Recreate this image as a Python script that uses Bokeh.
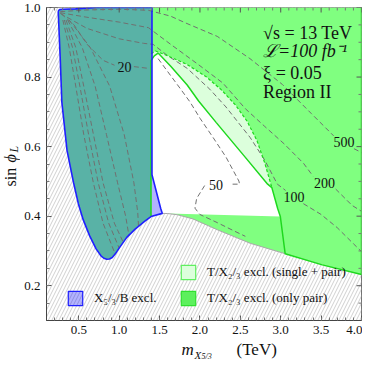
import math
from bokeh.plotting import figure
from bokeh.layouts import row, column
from bokeh.models import Range1d, Label, Legend, LegendItem, FixedTicker
from bokeh.embed import file_html
from bokeh.resources import INLINE

nan = float("nan")

# ---------------- data ----------------
x_lim = [0.1, 4.0]
y_lim = [0.1, 1.0]
x_ticks = [0.5, 1.0, 1.5, 2.0, 2.5, 3.0, 3.5, 4.0]
x_tick_labels = ["0.5", "1.0", "1.5", "2.0", "2.5", "3.0", "3.5", "4.0"]
x_minor = [round(0.1 * i, 2) for i in range(2, 40) if i % 5]
y_ticks = [0.2, 0.4, 0.6, 0.8, 1.0]
y_tick_labels = ["0.2", "0.4", "0.6", "0.8", "1.0"]
y_minor = [round(0.05 * i, 2) for i in range(3, 20) if i % 4]

# lower/left edge of the physical region (hatched outside), left part
bnd_left_x = [0.245, 0.27, 0.29, 0.354, 0.434, 0.494, 0.554, 0.633, 0.714, 0.774, 0.81, 0.846, 0.88, 0.914, 0.95, 0.993, 1.094, 1.194, 1.314, 1.394]
bnd_left_y = [0.989, 0.853, 0.728, 0.589, 0.497, 0.436, 0.390, 0.344, 0.306, 0.286, 0.279, 0.276, 0.277, 0.281, 0.291, 0.306, 0.339, 0.362, 0.385, 0.399]
# right part
bnd_right_x = [1.394, 1.534, 1.602, 1.722, 1.914, 2.214, 2.622, 3.055, 3.514, 4.0]
bnd_right_y = [0.399, 0.408, 0.4075, 0.404, 0.392, 0.361, 0.322, 0.292, 0.260, 0.232]
top_right_corner = [4.0, 1.0]

# X5/3 / B exclusion: upper edge and right edge
blue_top_x = [0.245, 0.26, 0.30, 0.46, 0.725, 1.406]
blue_top_y = [0.989, 0.994, 0.995, 0.996, 1.0, 1.0]
blue_right_x = [1.406, 1.406, 1.514, 1.534]
blue_right_y = [1.0, 0.519, 0.422, 0.408]

# T/X2/3 exclusion edges
notch_left_x = [1.394, 1.394]
notch_left_y = [0.399, 0.847]
single_edge_x = [1.394, 1.434, 1.482, 1.638, 1.842, 1.983, 2.202, 2.562, 2.838, 2.89]
single_edge_y = [0.847, 0.861, 0.869, 0.831, 0.777, 0.731, 0.669, 0.569, 0.492, 0.482]
pair_edge_x = [1.394, 1.45, 1.602, 1.842, 2.082, 2.262, 2.442, 2.586, 2.706, 2.802, 2.89]
pair_edge_y = [0.867, 0.875, 0.861, 0.836, 0.800, 0.764, 0.719, 0.672, 0.617, 0.553, 0.482]
lower_edge_x = [2.89, 2.962, 2.995, 3.055]
lower_edge_y = [0.482, 0.422, 0.399, 0.292]

# dashed contours (nan = gap for a label)
c20_x = [0.281, 0.441, 0.602, 0.801, 0.942, nan, 1.182, 1.362]
c20_y = [0.982, 0.95, 0.894, 0.848, 0.834, nan, 0.83, 0.825]
c50_x = [1.482, 1.542, 1.762, 1.878, 2.002, 2.163, 2.322, 2.482, 2.49, 2.403, nan, 2.058, 1.959, 1.938, 1.998, 2.218, 2.418, 2.562]
c50_y = [0.853, 0.834, 0.765, 0.728, 0.681, 0.626, 0.570, 0.501, 0.492, 0.492, nan, 0.488, 0.451, 0.423, 0.405, 0.381, 0.358, 0.342]
c100_x = [0.27, 0.6, 1.0, 1.3, 1.42, 1.602, 1.842, 2.122, 2.322, 2.622, 2.802, 2.958, 3.06, nan, 3.28, 3.499, 3.699, 3.899, 4.0]
c100_y = [0.983, 0.94, 0.91, 0.897, 0.894, 0.861, 0.825, 0.765, 0.714, 0.626, 0.561, 0.492, 0.474, nan, 0.436, 0.405, 0.367, 0.321, 0.298]
c200_x = [0.27, 0.6, 1.0, 1.362, 1.638, 1.962, 2.283, 2.562, 2.802, 3.042, 3.282, 3.40, nan, 3.68, 3.883, 4.0]
c200_y = [0.985, 0.972, 0.958, 0.942, 0.894, 0.839, 0.783, 0.709, 0.658, 0.608, 0.552, 0.515, nan, 0.478, 0.431, 0.414]
c500_x = [0.27, 0.6, 1.0, 1.362, 1.638, 1.818, 2.214, 2.619, 3.019, 3.379, 3.655, nan, 3.907, 4.0]
c500_y = [0.988, 0.993, 0.995, 0.992, 0.975, 0.956, 0.917, 0.853, 0.779, 0.695, 0.631, nan, 0.594, 0.583]
b1_x = [0.302, 0.381, 0.462, 0.561, 0.68, 0.80, 0.95]
b1_y = [0.964, 0.885, 0.774, 0.635, 0.496, 0.38, 0.291]
b2_x = [0.321, 0.422, 0.513, 0.621, 0.74, 0.87, 1.00]
b2_y = [0.964, 0.885, 0.774, 0.635, 0.496, 0.38, 0.308]
b3_x = [0.342, 0.462, 0.561, 0.681, 0.80, 0.94, 1.05]
b3_y = [0.964, 0.885, 0.774, 0.635, 0.496, 0.38, 0.325]
l4_x = [0.362, 0.542, 0.702, 0.842, 0.98, 1.08, 1.12]
l4_y = [0.964, 0.885, 0.774, 0.635, 0.496, 0.40, 0.345]
l5_x = [0.381, 0.642, 0.882, 1.062, 1.182, 1.23, 1.24]
l5_y = [0.964, 0.885, 0.774, 0.635, 0.496, 0.41, 0.367]
contours = [(c20_x, c20_y), (c50_x, c50_y), (c100_x, c100_y), (c200_x, c200_y), (c500_x, c500_y),
            (b1_x, b1_y), (b2_x, b2_y), (b3_x, b3_y), (l4_x, l4_y), (l5_x, l5_y)]

contour_labels = ["20", "50", "100", "200", "500"]
contour_label_x = [1.065, 2.2, 3.163, 3.543, 3.783]
contour_label_y = [0.83, 0.489, 0.455, 0.496, 0.612]

info_lines = ["\u221As = 13 TeV", "\u2112=100 fb\u207b\u00b9", "\u03be = 0.05", "Region II"]
info_x = 2.782
info_y = [0.927, 0.876, 0.811, 0.756]

# ---------------- colours / layout ----------------
GREEN_PAIR = "#80ff80"
GREEN_SINGLE = "#dcffdc"
GREEN_LINE = "#1ed81e"
BLUE = "#0000ff"
BLUE_LINE = "#2020ff"
SERIF = "Liberation Serif"
YT_W = 20                      # strip holding the y title
W, H = 362 - YT_W, 339         # main figure
XT_H = 361 - H                 # strip holding the x title
BL, BR, BT, BB = 26, 1, 7, 19
FW, FH = W - BL - BR, H - BT - BB

fig = figure(width=W, height=H, output_backend="svg", toolbar_location=None,
             x_range=Range1d(*x_lim), y_range=Range1d(*y_lim),
             min_border_left=BL, min_border_right=BR, min_border_top=BT, min_border_bottom=BB)
fig.grid.visible = False
fig.outline_line_color = "#444444"
fig.background_fill_color = "white"
fig.border_fill_color = "white"

# hatched background (theoretically excluded)
fig.quad(left=[x_lim[0]], right=[x_lim[1]], bottom=[y_lim[0]], top=[y_lim[1]],
         fill_color="white", line_color=None,
         hatch_pattern="/", hatch_color="#c4c4c4", hatch_scale=7, hatch_weight=0.8)

# allowed region (white)
ax_ = bnd_left_x + bnd_right_x[1:] + [top_right_corner[0], bnd_left_x[0]]
ay_ = bnd_left_y + bnd_right_y[1:] + [top_right_corner[1], 1.0]
fig.patch(ax_, ay_, fill_color="white", line_color=None)

# single + pair (pale green) wedge
sx = single_edge_x + pair_edge_x[::-1]
sy = single_edge_y + pair_edge_y[::-1]
fig.patch(sx, sy, fill_color=GREEN_SINGLE, line_color=None)

# only pair (green)
gx = (blue_top_x[:-1] + [top_right_corner[0], top_right_corner[0]] + bnd_right_x[::-1][1:-2]
      + lower_edge_x[::-1][1:] + pair_edge_x[::-1][1:] + [notch_left_x[0]] + bnd_left_x[::-1][1:])
gy = (blue_top_y[:-1] + [top_right_corner[1], bnd_right_y[-1]] + bnd_right_y[::-1][1:-2]
      + lower_edge_y[::-1][1:] + pair_edge_y[::-1][1:] + [notch_left_y[0]] + bnd_left_y[::-1][1:])
fig.patch(gx, gy, fill_color=GREEN_PAIR, line_color=None)

# X5/3/B exclusion (translucent blue)
bx = blue_top_x + blue_right_x[1:] + bnd_left_x[::-1]
by = blue_top_y + blue_right_y[1:] + bnd_left_y[::-1]
fig.patch(bx, by, fill_color=BLUE, fill_alpha=0.3, line_color=None)

# contours
for cx, cy in contours:
    fig.line(cx, cy, line_color="#707070", line_width=1, line_dash="5 3")

# boundary lines
fig.line(bnd_right_x[1:8], bnd_right_y[1:8], line_color="#a8a8a8", line_width=1)
fig.line(pair_edge_x, pair_edge_y, line_color=GREEN_LINE, line_width=1.2, line_dash="3 2")
gl_x = notch_left_x + single_edge_x[1:] + lower_edge_x[1:] + bnd_right_x[8:] + [top_right_corner[0]]
gl_y = notch_left_y + single_edge_y[1:] + lower_edge_y[1:] + bnd_right_y[8:] + [top_right_corner[1]]
fig.line(gl_x, gl_y, line_color=GREEN_LINE, line_width=1.5)
fig.line(bx + [bx[0]], by + [by[0]], line_color=BLUE_LINE, line_width=1.6)

# contour labels
for t, lx, ly in zip(contour_labels, contour_label_x, contour_label_y):
    fig.add_layout(Label(x=lx, y=ly, text=t, text_align="center", text_baseline="middle",
                         text_font=SERIF, text_font_size="14px", text_color="#111111"))

# info text
for i, (t, ly) in enumerate(zip(info_lines, info_y)):
    fig.add_layout(Label(x=info_x, y=ly, text=t, text_align="left", text_baseline="middle",
                         text_font=SERIF, text_font_size="18px", text_color="#111111",
                         text_font_style="italic" if i == 1 else "normal"))

# legend (glyphs carry only a NaN row, so they draw nothing in the plot)
r_blue = fig.quad(left=[nan], right=[nan], top=[nan], bottom=[nan], fill_color=BLUE, fill_alpha=0.3,
                  line_color=BLUE_LINE, line_width=1.2)
r_single = fig.quad(left=[nan], right=[nan], top=[nan], bottom=[nan], fill_color=GREEN_SINGLE,
                    line_color="#60f060", line_width=1.2)
r_pair = fig.quad(left=[nan], right=[nan], top=[nan], bottom=[nan], fill_color="#5cf05c",
                  line_color="#30e030", line_width=1.2)
for items, loc in [([LegendItem(label="X\u2085/\u2083/B excl.", renderers=[r_blue])], (20, 13)),
                   ([LegendItem(label="T/X\u2082/\u2083 excl. (single + pair)", renderers=[r_single]),
                     LegendItem(label="T/X\u2082/\u2083 excl. (only pair)", renderers=[r_pair])], (133, 13))]:
    lg = Legend(items=items, location=loc, padding=0, margin=0, spacing=8,
                glyph_width=18, glyph_height=18, label_standoff=10,
                label_text_font=SERIF, label_text_font_size="13px", label_text_color="#111111",
                border_line_alpha=0, background_fill_alpha=0)
    fig.add_layout(lg)

# axes (left / bottom with labels)
def style_axis(ax, ticks, minor, labels):
    ax.ticker = FixedTicker(ticks=ticks, minor_ticks=minor + ticks)
    ax.axis_line_color = "#444444"
    ax.major_tick_in = 5
    ax.major_tick_out = 0
    ax.minor_tick_in = 3
    ax.minor_tick_out = 0
    ax.major_tick_line_color = "#555555"
    ax.minor_tick_line_color = "#777777"
    ax.major_label_overrides = {t: l for t, l in zip(ticks, labels)}
    ax.major_label_text_font = SERIF
    ax.major_label_text_font_size = "13px"
    ax.major_label_text_color = "#111111"

style_axis(fig.xaxis[0], x_ticks, x_minor, x_tick_labels)
fig.xaxis[0].major_label_standoff = 5
style_axis(fig.yaxis[0], y_ticks, y_minor, y_tick_labels)
fig.yaxis[0].major_label_standoff = 6

# ticks on the top and right frame edges
dx_major = 5 * (x_lim[1] - x_lim[0]) / FW
dx_minor = 3 * (x_lim[1] - x_lim[0]) / FW
dy_major = 5 * (y_lim[1] - y_lim[0]) / FH
dy_minor = 3 * (y_lim[1] - y_lim[0]) / FH
fig.segment(x0=x_ticks, x1=x_ticks, y0=[y_lim[1]] * len(x_ticks), y1=[y_lim[1] - dy_major] * len(x_ticks),
            line_color="#555555", line_width=1)
fig.segment(x0=x_minor, x1=x_minor, y0=[y_lim[1]] * len(x_minor), y1=[y_lim[1] - dy_minor] * len(x_minor),
            line_color="#777777", line_width=1)
fig.segment(x0=[x_lim[1]] * len(y_ticks), x1=[x_lim[1] - dx_major] * len(y_ticks), y0=y_ticks, y1=y_ticks,
            line_color="#555555", line_width=1)
fig.segment(x0=[x_lim[1]] * len(y_minor), x1=[x_lim[1] - dx_minor] * len(y_minor), y0=y_minor, y1=y_minor,
            line_color="#777777", line_width=1)

# ---------------- axis titles in thin strips ----------------
def strip(w, h):
    s = figure(width=w, height=h, output_backend="svg", toolbar_location=None,
               x_range=Range1d(0, 1), y_range=Range1d(0, 1), x_axis_type=None, y_axis_type=None,
               min_border_left=0, min_border_right=0, min_border_top=0, min_border_bottom=0)
    s.grid.visible = False
    s.outline_line_color = None
    s.background_fill_color = "white"
    s.border_fill_color = "white"
    return s

def slabel(s, x, y, t, size, style="normal", angle=0.0):
    s.add_layout(Label(x=x, y=y, x_units="screen", y_units="screen", text=t, angle=angle,
                       text_font=SERIF, text_font_size=size, text_font_style=style,
                       text_color="#111111", text_align="left", text_baseline="middle"))

xt = strip(W, XT_H)
slabel(xt, 135, 12, "m", "17px", "italic")
slabel(xt, 148, 7, "X", "11px", "italic")
slabel(xt, 155, 5, "5/3", "8px", "italic")
slabel(xt, 190, 12, "(TeV)", "17px")

yt = strip(YT_W, H + XT_H)
slabel(yt, 9.5, 175, "sin", "16px", "normal", math.pi / 2)
slabel(yt, 9.5, 199, "\u03d5", "16px", "italic", math.pi / 2)
slabel(yt, 13, 209, "L", "12px", "italic", math.pi / 2)

p = row(yt, column(fig, xt, spacing=0), spacing=0)

open("out.html", "w").write(file_html(p, INLINE))
